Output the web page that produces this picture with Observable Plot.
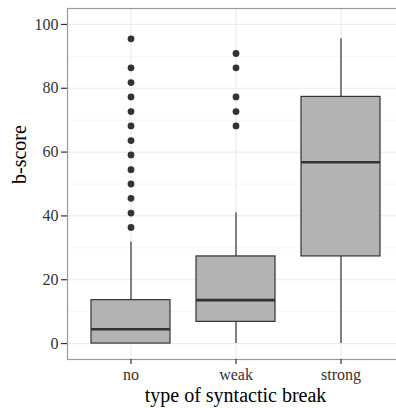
<!DOCTYPE html>
<html>
<head>
<meta charset="utf-8">
<script src="https://cdn.jsdelivr.net/npm/d3@7"></script>
<script src="https://cdn.jsdelivr.net/npm/@observablehq/plot@0.6"></script>
<style>
  html, body { margin: 0; padding: 0; background: white; overflow: hidden; }
  #chart svg { overflow: hidden; display: block; }
  #chart svg, #chart svg text, #chart svg g { font-family: "Liberation Serif", "Times New Roman", serif !important; }
</style>
</head>
<body>
<div id="chart"></div>
<script>
// ---- data (box statistics) ----
const categories = ["no", "weak", "strong"];
const whiskerLow = [0, 0, 0];
const q1 = [0, 6.8, 27.3];
const medians = [4.5, 13.6, 56.8];
const q3 = [13.6, 27.3, 77.3];
const whiskerHigh = [31.8, 40.9, 95.5];
const noOutliers = [36.4, 40.9, 45.5, 50.0, 54.5, 59.1, 63.6, 68.2, 72.7, 77.3, 81.8, 86.4, 95.5];
const weakOutliers = [68.2, 72.7, 77.3, 86.4, 90.9];
const strongOutliers = [];
const yTicks = [0, 20, 40, 60, 80, 100];
const yMinorTicks = [10, 30, 50, 70, 90];
const xTitle = "type of syntactic break";
const yTitle = "b-score";

const boxes = categories.map((c, i) => ({
  cat: c, lo: whiskerLow[i], q1: q1[i], med: medians[i], q3: q3[i], hi: whiskerHigh[i]
}));
const outlierLists = [noOutliers, weakOutliers, strongOutliers];
const outliers = categories.flatMap((c, i) => outlierLists[i].map(v => ({cat: c, value: v})));

const font = "Liberation Serif";
const dark = "#333333";

const chart = Plot.plot({
  width: 396,
  height: 408,
  marginLeft: 67,
  marginRight: -7,
  marginTop: 8,
  marginBottom: 49,
  style: {background: "white", overflow: "hidden"},
  x: {type: "band", domain: categories, paddingInner: 0.25, paddingOuter: 0.225, axis: null},
  y: {domain: [-5, 105], axis: null},
  marks: [
    Plot.gridY(yMinorTicks, {stroke: "#f4f4f4", strokeOpacity: 1, strokeWidth: 1}),
    Plot.gridY(yTicks, {stroke: "#ebebeb", strokeOpacity: 1, strokeWidth: 1.2}),
    Plot.gridX(categories, {stroke: "#ebebeb", strokeOpacity: 1, strokeWidth: 1.2}),
    Plot.frame({stroke: "#9a9a9a", strokeWidth: 1.2}),
    // whiskers
    Plot.ruleX(boxes, {x: "cat", y1: "lo", y2: "q1", stroke: dark, strokeWidth: 1.2}),
    Plot.ruleX(boxes, {x: "cat", y1: "q3", y2: "hi", stroke: dark, strokeWidth: 1.2}),
    // boxes
    Plot.barY(boxes, {x: "cat", y1: "q1", y2: "q3", fill: "#b3b3b3", stroke: dark, strokeWidth: 1.2}),
    // medians
    Plot.tickY(boxes, {x: "cat", y: "med", stroke: dark, strokeWidth: 2.6}),
    // outliers
    Plot.dot(outliers, {x: "cat", y: "value", r: 3.4, fill: dark, stroke: "none"}),
    // axes
    Plot.axisY(yTicks, {anchor: "left", tickSize: 6, tickPadding: 3, fontSize: 16, fontFamily: font, color: dark, strokeWidth: 1.2, label: null}),
    Plot.axisX(categories, {anchor: "bottom", tickSize: 5, tickPadding: 4, fontSize: 16, fontFamily: font, color: dark, strokeWidth: 1.2, label: null}),
    Plot.text([xTitle], {frameAnchor: "bottom", lineAnchor: "top", dy: 28, fontSize: 20, fontFamily: font, fill: "black", text: d => d}),
    Plot.text([yTitle], {frameAnchor: "left", rotate: -90, dx: -48, fontSize: 20, fontFamily: font, fill: "black", text: d => d})
  ]
});
document.getElementById("chart").appendChild(chart);
</script>
</body>
</html>
